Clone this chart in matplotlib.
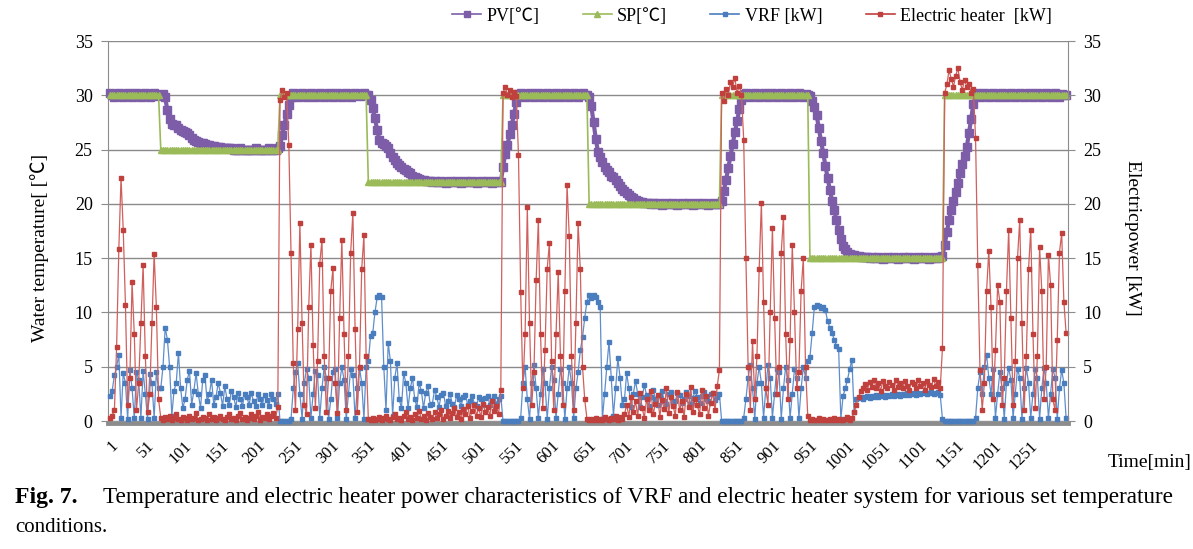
import matplotlib.pyplot as plt
from matplotlib.lines import Line2D
import numpy as np

plt.rcParams['font.family'] = ['Liberation Serif', 'Noto Sans CJK JP', 'DejaVu Sans']

# =========================
# Data (one sample every 3 min)
# =========================
minutes = list(range(1, 1301, 3))

# set point: level and number of samples it is held
sp_levels = [30, 25, 30, 22, 30, 20, 30, 15, 30]
sp_runs = [23, 54, 40, 61, 39, 60, 40, 61, 56]

pv = [
    # SP 30
    30.2, 30.0, 29.8, 30.1, 30.2, 29.9, 29.8, 30.1, 30.2, 30.0, 29.8, 30.1, 30.2, 29.9, 29.8, 30.1,
    30.2, 30.0, 29.8, 30.1, 30.2, 29.9, 30.0,
    # SP 25
    30.0, 30.1, 29.8, 28.6, 27.8, 27.4, 27.3, 27.3, 27.0, 26.8,
    26.7, 26.6, 26.5, 26.3, 26.1, 25.9, 25.8, 25.7, 25.6, 25.6,
    25.5, 25.4, 25.4, 25.3, 25.3, 25.2, 25.2, 25.2, 25.1, 25.1,
    25.1, 25.1, 25.1, 25.0, 25.0, 25.0, 25.1, 25.0, 25.0, 25.0,
    25.0, 25.0, 25.0, 25.1, 25.0, 25.0, 25.0, 25.0, 25.0, 25.1,
    25.0, 25.0, 25.0, 25.1,
    # SP 30
    25.3, 26.3, 27.3, 28.3, 29.1, 29.8,
    30.2, 30.1, 29.8, 29.9, 30.2, 30.0, 29.8, 30.1, 30.2, 29.9,
    29.8, 30.1, 30.2, 30.0, 29.8, 30.0, 30.2, 30.1, 29.8, 29.9,
    30.2, 30.0, 29.8, 30.1, 30.2, 29.9, 29.8, 30.1, 30.2, 30.0,
    29.9, 30.1, 30.2, 30.0,
    # SP 22
    30.0, 29.6, 28.8, 27.9, 26.8, 25.9, 25.6, 25.5, 25.3, 25.1,
    24.7, 24.3, 24.0, 23.8, 23.6, 23.4, 23.2, 23.1, 22.9, 22.8,
    22.6, 22.5, 22.4, 22.3, 22.2, 22.2, 22.1, 22.1, 22.1, 22.0,
    22.1, 22.0, 22.0, 22.1, 22.0, 21.9, 22.0, 22.1, 22.0, 22.0,
    22.1, 22.0, 21.9, 22.0, 22.1, 22.0, 22.0, 22.1, 22.0, 21.9,
    22.0, 22.1, 22.0, 22.0, 22.1, 22.0, 21.9, 22.0, 22.1, 22.0,
    22.0,
    # SP 30
    23.4, 24.6, 25.4, 26.4, 27.3, 28.3, 29.4, 30.1,
    30.2, 29.9, 29.8, 30.1, 30.2, 30.0, 29.8, 30.1, 30.2, 29.9,
    29.8, 30.1, 30.2, 30.0, 29.8, 30.1, 30.2, 29.9, 29.8, 30.1,
    30.2, 30.0, 29.8, 30.1, 30.2, 29.9, 29.8, 30.1, 30.2, 30.0,
    30.0,
    # SP 20
    29.8, 29.0, 27.5, 26.0, 24.8, 24.3, 23.9, 23.4, 23.1, 22.9,
    22.6, 22.5, 22.2, 21.9, 21.6, 21.4, 21.2, 21.0, 20.8, 20.6,
    20.5, 20.4, 20.3, 20.2, 20.2, 20.1, 20.1, 20.1, 20.0, 20.1,
    20.0, 20.1, 20.0, 19.9, 20.0, 20.1, 20.0, 20.0, 20.1, 20.0,
    19.9, 20.0, 20.1, 20.0, 20.0, 20.1, 20.0, 19.9, 20.0, 20.1,
    20.0, 20.0, 20.1, 20.0, 19.9, 20.0, 20.1, 20.0, 20.0, 20.0,
    # SP 30
    20.3, 21.2, 22.2, 23.3, 24.4, 25.5, 26.6, 27.6, 28.7, 29.6, 30.1,
    30.2, 29.9, 29.8, 30.1, 30.2, 30.0, 29.8, 30.1, 30.2, 29.9,
    29.8, 30.1, 30.2, 30.0, 29.8, 30.1, 30.2, 29.9, 29.8, 30.1,
    30.2, 30.0, 29.8, 30.1, 30.2, 29.9, 29.8, 30.1, 30.0,
    # SP 15
    29.9, 29.5, 28.9, 28.2, 27.0, 25.8, 24.7, 23.5, 22.4, 21.3,
    20.3, 19.4, 18.5, 17.6, 16.8, 16.1, 15.8, 15.6, 15.4, 15.3,
    15.3, 15.2, 15.2, 15.1, 15.1, 15.1, 15.1,
    15.0, 15.1, 15.0, 15.0, 15.1, 15.0, 14.9, 15.0, 15.1, 15.0,
    15.0, 15.1, 15.0, 14.9, 15.0, 15.1, 15.0, 15.0, 15.1, 15.0,
    14.9, 15.0, 15.1, 15.0, 15.0, 15.1, 15.0, 14.9, 15.0, 15.1,
    15.0, 15.0, 15.1, 15.2,
    # SP 30
    16.2, 17.4, 18.5, 19.4, 20.3, 21.1, 21.9, 22.8, 23.7, 24.4, 25.2, 26.5, 27.8, 29.2, 30.2,
    30.1, 29.8, 29.9, 30.2, 30.0, 29.8, 30.1, 30.2, 29.9, 29.8,
    30.1, 30.2, 30.0, 29.8, 30.1, 30.2, 29.9, 29.8, 30.1, 30.2,
    30.0, 29.8, 30.1, 30.2, 29.9, 29.8, 30.1, 30.2, 30.0, 29.8,
    30.1, 30.2, 29.9, 29.8, 30.1, 30.2, 30.0, 29.8, 30.1, 30.0,
    30.0,
]

vrf = [
    2.3, 2.8, 4.2, 5.0, 6.1, 0.3, 4.4, 3.5, 0.2, 4.7, 3.0, 0.3, 4.5, 3.8, 0.3, 4.6, 2.5, 0.2, 4.3, 3.5,
    0.3, 4.5, 3.0,
    3.0, 5.0, 8.6, 7.5, 5.0, 0.5, 2.8, 3.5, 6.3, 3.0,
    1.2, 2.0, 3.8, 4.6, 1.5, 2.8, 4.4, 2.5, 1.2, 3.8,
    4.2, 1.8, 2.5, 3.8, 1.5, 2.2, 3.5, 2.6, 1.4, 3.2,
    2.0, 1.5, 2.8, 2.2, 1.3, 2.6, 2.0, 1.4, 2.5, 2.2,
    1.5, 2.6, 1.8, 1.4, 2.5, 2.0, 1.5, 2.4, 1.9, 1.4,
    2.5, 2.0, 1.6, 2.5,
    0.0, 0.0, 0.0, 0.0, 0.0, 0.2, 3.0, 4.5, 5.3, 2.5,
    0.2, 3.5, 4.8, 4.0, 0.3, 2.5, 4.6, 4.2, 0.3, 3.0,
    5.0, 4.0, 0.2, 2.0, 4.5, 4.8, 0.3, 3.5, 5.0, 3.8,
    0.2, 2.5, 4.8, 4.2, 0.3, 3.0, 4.9, 3.5, 0.2, 5.0,
    5.5, 7.8, 8.1, 10.0, 11.4, 11.6, 11.4, 5.0, 1.0, 7.2,
    5.5, 0.5, 4.0, 5.3, 2.0, 1.2, 4.4, 3.5, 1.2, 3.0,
    4.0, 2.0, 1.3, 3.5, 2.8, 1.2, 2.6, 3.2, 1.5, 1.6,
    2.9, 2.2, 1.3, 2.4, 2.6, 1.4, 1.8, 2.5, 1.6, 1.3,
    2.4, 2.0, 1.4, 2.2, 2.4, 1.5, 1.8, 2.3, 1.6, 1.4,
    2.2, 2.0, 1.5, 2.1, 2.3, 1.5, 1.9, 2.3, 1.6, 2.0,
    2.3,
    0.0, 0.0, 0.0, 0.0, 0.0, 0.0, 0.0, 0.0,
    0.3, 3.5, 5.0, 2.0, 0.2, 3.5, 5.2, 3.0, 0.3, 2.5,
    4.8, 3.5, 0.2, 3.0, 5.0, 3.8, 0.3, 2.5, 4.8, 3.5,
    0.2, 3.0, 5.0, 3.5, 0.3, 3.0, 4.5, 6.5, 7.7, 9.5,
    11.0,
    11.6, 11.3, 11.6, 11.4, 11.0, 10.5, 0.2, 2.5, 5.0, 7.3,
    4.0, 0.5, 3.0, 5.8, 4.0, 1.5, 2.0, 4.4, 3.0, 1.3,
    2.5, 3.7, 2.5, 1.3, 2.2, 3.3, 2.4, 1.4, 2.2, 2.9,
    2.0, 1.5, 2.4, 2.8, 1.8, 1.6, 2.5, 2.7, 1.7, 1.8,
    2.6, 2.4, 1.7, 2.0, 2.7, 2.3, 1.6, 2.1, 2.8, 2.2,
    1.7, 2.3, 2.7, 2.0, 1.8, 2.5, 2.6, 1.9, 2.2, 2.5,
    0.0, 0.0, 0.0, 0.0, 0.0, 0.0, 0.0, 0.0, 0.0, 0.0,
    0.3, 2.0, 4.0, 5.2, 3.0, 0.2, 3.5, 5.0, 3.5, 0.3,
    3.0, 5.2, 4.0, 0.3, 2.5, 4.8, 4.5, 0.2, 3.0, 5.0,
    3.8, 0.3, 2.5, 4.8, 4.0, 0.3, 3.0, 5.0, 4.0, 5.5,
    5.9, 8.1, 10.5, 10.7, 10.6, 10.4, 10.5, 10.2, 9.2, 8.6,
    8.1, 7.5, 6.9, 6.6, 0.2, 2.3, 3.0, 3.8, 4.8, 5.6,
    0.8, 2.0, 2.1, 2.2, 2.0, 2.2, 2.3, 2.1, 2.3, 2.2,
    2.4, 2.2, 2.3, 2.4, 2.2, 2.4, 2.3, 2.5, 2.3, 2.4,
    2.5, 2.3, 2.5, 2.4, 2.6, 2.4, 2.5, 2.6, 2.4, 2.6,
    2.5, 2.6, 2.7, 2.5, 2.6, 2.7, 2.5, 2.6, 2.7, 2.4,
    0.2,
    0.0, 0.0, 0.0, 0.0, 0.0, 0.0, 0.0, 0.0, 0.0, 0.0, 0.0, 0.0, 0.0, 0.0,
    0.3, 3.0, 4.5, 2.5, 5.0, 6.1,
    4.0, 2.5, 4.8, 0.3, 2.5, 4.5, 3.0, 0.2, 3.5, 4.9,
    3.8, 0.3, 2.5, 4.8, 4.0, 0.2, 3.0, 4.9, 3.5, 0.3,
    2.5, 4.8, 4.0, 0.2, 3.0, 4.9, 3.5, 0.3, 2.5, 4.8,
    4.0, 0.2, 3.0, 4.7, 3.5, 0.3,
]

heater = [
    0.3, 0.5, 1.0, 6.8, 15.8, 22.4, 17.6, 10.7, 1.5, 4.0, 12.8, 8.0, 1.0, 3.5, 9.0, 14.4, 6.0, 0.8,
    2.5, 9.0, 15.4, 10.5, 2.0,
    0.3, 0.1, 0.4, 0.2, 0.5, 0.1, 0.3, 0.6, 0.2, 0.1,
    0.4, 0.3, 0.1, 0.5, 0.2, 0.3, 0.7, 0.1, 0.2, 0.4,
    0.3, 0.1, 0.6, 0.2, 0.4, 0.1, 0.3, 0.5, 0.2, 0.1,
    0.4, 0.6, 0.2, 0.3, 0.1, 0.5, 0.7, 0.2, 0.4, 0.1,
    0.3, 0.6, 0.2, 0.5, 0.8, 0.1, 0.4, 0.3, 0.6, 0.2,
    0.5, 0.7, 0.3, 1.3,
    29.6, 30.5, 29.8, 30.2, 25.4, 15.5, 5.3, 1.0, 8.5, 18.2,
    9.0, 1.5, 0.6, 10.5, 16.2, 7.0, 1.2, 5.5, 14.5, 16.7,
    6.0, 0.8, 4.0, 12.0, 14.1, 3.5, 0.7, 9.5, 16.7, 8.0,
    1.0, 6.0, 15.5, 19.2, 8.5, 0.8, 5.0, 14.0, 17.1, 6.0,
    0.2, 0.1, 0.3, 0.1, 0.2, 0.4, 0.1, 0.3, 0.5, 0.2,
    0.1, 0.4, 0.6, 0.2, 0.3, 0.1, 0.5, 0.8, 0.2, 0.4,
    0.1, 0.6, 0.3, 0.9, 0.2, 0.5, 0.1, 0.7, 0.4, 0.2,
    0.8, 0.3, 0.6, 1.0, 0.2, 0.5, 0.9, 0.3, 0.7, 1.2,
    0.4, 0.8, 0.2, 1.1, 0.6, 1.4, 0.3, 0.9, 1.5, 0.5,
    1.2, 0.4, 1.6, 0.8, 1.3, 0.5, 1.8, 0.9, 1.4, 0.6,
    2.9,
    30.2, 30.8, 30.0, 30.5, 29.8, 30.3, 29.9, 24.5, 11.9, 3.0,
    8.0, 19.7, 9.0, 1.5, 4.5, 13.0, 18.5, 8.0, 1.2, 6.5,
    14.0, 16.4, 5.5, 1.0, 8.0, 13.7, 6.0, 1.5, 12.0, 21.7,
    17.0, 6.0, 1.0, 9.0, 18.2, 14.0, 5.0, 2.0, 0.2,
    0.1, 0.2, 0.1, 0.3, 0.1, 0.2, 0.1, 0.4, 0.2, 0.1,
    0.3, 0.2, 0.5, 0.1, 0.4, 0.2, 0.6, 1.5, 0.4, 2.2,
    0.8, 1.8, 0.5, 2.6, 1.2, 0.3, 2.0, 1.0, 2.8, 0.6,
    1.6, 2.4, 0.4, 1.9, 1.1, 3.0, 0.7, 2.2, 1.4, 0.5,
    2.7, 1.0, 1.8, 0.4, 2.5, 1.3, 3.1, 0.8, 2.0, 1.5,
    0.6, 2.9, 1.2, 2.3, 0.5, 1.7, 2.6, 1.0, 3.2, 4.7,
    30.2, 29.5, 30.6, 30.0, 31.2, 30.8, 31.6, 30.2, 30.9, 30.0,
    25.9, 15.0, 5.0, 1.0, 7.4, 2.0, 6.0, 14.0, 20.1, 11.0,
    3.0, 1.5, 10.0, 17.8, 9.5, 2.5, 5.0, 15.5, 18.8, 8.0,
    2.0, 7.5, 16.2, 10.0, 3.0, 4.5, 12.0, 15.0, 5.0, 0.5,
    0.1, 0.2, 0.1, 0.1, 0.3, 0.1, 0.2, 0.1, 0.1, 0.2,
    0.1, 0.3, 0.1, 0.2, 0.1, 0.1, 0.2, 0.4, 0.1, 0.3,
    0.8, 1.5, 2.2, 2.8, 3.0,
    3.4, 2.9, 3.6, 3.1, 3.8, 3.0, 3.5, 2.8, 3.7, 3.2,
    3.0, 3.6, 3.3, 2.9, 3.8, 3.1, 3.5, 3.0, 3.7, 3.2,
    2.9, 3.6, 3.4, 3.0, 3.8, 3.2, 3.5, 2.9, 3.7, 3.3,
    3.1, 3.9, 3.2, 3.6, 3.0,
    6.7,
    30.2, 31.0, 32.3, 31.5, 30.8, 31.8, 32.5, 31.2, 30.5, 31.4,
    30.8, 31.0, 30.2, 30.6, 26.1, 14.4, 4.7, 1.0, 3.5, 12.0,
    15.7, 10.5, 2.0, 6.5, 12.5, 11.0, 1.5, 4.0, 12.0, 17.6,
    9.5, 1.5, 5.5, 15.0, 18.5, 9.0, 1.0, 6.0, 14.0, 17.6,
    8.0, 1.2, 6.0, 16.0, 12.0, 2.0, 5.0, 15.3, 12.5, 2.0,
    1.0, 7.5, 15.5, 17.3, 11.0, 8.1,
]

sp = np.repeat(sp_levels, sp_runs)

xtick_vals = list(range(1, 1252, 50))

# =========================
# Style
# =========================
purple = '#7E5DA8'
green = '#9BBB59'
blue = '#4A7DBE'
red = '#C0403D'
gray = '#8C8C8C'

W, H = 1193, 549
fig = plt.figure(figsize=(W / 100, H / 100), dpi=100)
ax = fig.add_axes([108 / W, 1 - 421 / H, 960 / W, 380 / H])

ax.axhline(-0.2, color=gray, lw=3.5, zorder=2.5, clip_on=False)
ax.plot(minutes, pv, color=purple, lw=3.0, marker='s', ms=5.5, mec=purple, mfc=purple,
        zorder=3, clip_on=False)
ax.plot(minutes, sp, color=green, lw=1.2, marker='^', ms=4.2, mec=green, mfc=green,
        zorder=4, clip_on=False)
ax.plot(minutes, vrf, color='#5E8ECC', lw=0.9, marker='s', ms=2.8, mec=blue, mfc=blue,
        zorder=5, clip_on=False)
ax.plot(minutes, heater, color='#D0605D', lw=0.9, marker='s', ms=2.8, mec=red, mfc=red,
        zorder=6, clip_on=False)

ax.set_xlim(-1.7, 1302.6)
ax.set_ylim(0, 35)
ax.set_yticks(range(0, 36, 5))
ax.yaxis.grid(True, color='#8A8A8A', lw=1)
ax.set_axisbelow(True)
for s in ['top', 'bottom', 'right']:
    ax.spines[s].set_visible(False)
ax.spines['left'].set_color(gray)
ax.tick_params(axis='y', direction='out', length=5, color=gray, labelsize=13, pad=6)

ax.set_xticks(xtick_vals)
ax.set_xticklabels([str(v) for v in xtick_vals], rotation=45, ha='right',
                   rotation_mode='anchor', fontsize=12)
ax.tick_params(axis='x', length=0, pad=12)

ax2 = ax.twinx()
ax2.set_ylim(0, 35)
ax2.set_yticks(range(0, 36, 5))
for s in ['top', 'bottom', 'left']:
    ax2.spines[s].set_visible(False)
ax2.spines['right'].set_color(gray)
ax2.tick_params(axis='y', direction='out', length=5, color=gray, labelsize=13, pad=6)

# legend
handles = [
    Line2D([], [], color=purple, lw=1.2, marker='s', ms=4),
    Line2D([], [], color=green, lw=1.2, marker='^', ms=4),
    Line2D([], [], color=blue, lw=1.2, marker='s', ms=3),
    Line2D([], [], color=red, lw=1.2, marker='s', ms=3),
]
labels = ['PV[℃]', 'SP[℃]', 'VRF [kW]', 'Electric heater  [kW]']
fig.legend(handles, labels, loc='center', bbox_to_anchor=(752 / W, 1 - 16 / H), ncol=4,
           frameon=False, fontsize=13, handlelength=1.6, handletextpad=0.3,
           columnspacing=2.4, numpoints=1)

fig.text(40 / W, 1 - 248 / H, 'Water temperature[ [℃]', rotation=90, ha='center',
         va='center', fontsize=14)
fig.text(1132 / W, 1 - 238 / H, 'Electricpower [kW]', rotation=-90, ha='center',
         va='center', fontsize=14)
fig.text(1150 / W, 1 - 462 / H, 'Time[min]', ha='center', va='center', fontsize=14)

# caption
fig_lbl = fig.text(15 / W, 1 - 497 / H, 'Fig. 7.', fontweight='bold', fontsize=15, va='center')
cap = fig.text(103 / W, 1 - 497 / H,
               'Temperature and electric heater power characteristics of VRF and electric '
               'heater system for various set temperature', fontsize=15, va='center')
fig.text(15 / W, 1 - 528 / H, 'conditions.', fontsize=15, va='center')

fig.canvas.draw()
bb = cap.get_window_extent()
cap.set_fontsize(15 * (1178 - 103) / bb.width)
bb = fig_lbl.get_window_extent()
fig_lbl.set_fontsize(min(17, 15 * (98 - 15) / bb.width))

fig.savefig('out.png', dpi=100)
